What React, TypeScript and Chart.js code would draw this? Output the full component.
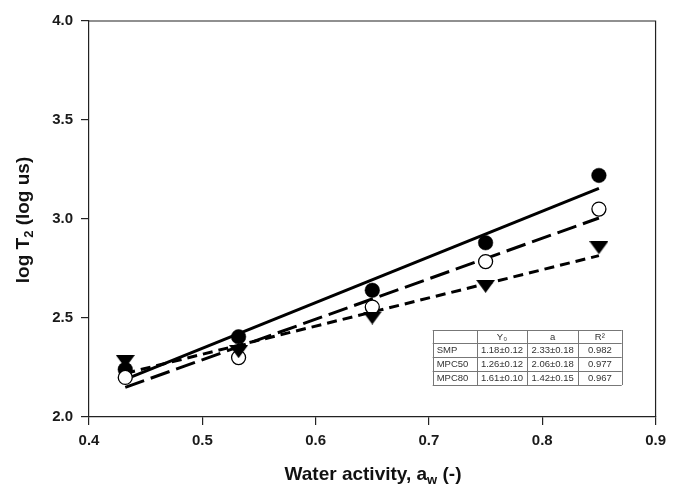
import { useEffect, useRef } from "react";
import { Chart, registerables } from "chart.js";

Chart.register(...registerables);

// ---- data ----
const waterActivity = [0.432, 0.532, 0.65, 0.75, 0.85];
const smpT2 = [2.24, 2.405, 2.64, 2.88, 3.22];
const mpc50T2 = [2.2, 2.3, 2.555, 2.785, 3.05];
const mpc80T2 = [2.28, 2.33, 2.5, 2.66, 2.855];

const fitX = [0.432, 0.85];
const smpFit = [2.19, 3.155];
const mpc50Fit = [2.15, 3.005];
const mpc80Fit = [2.22, 2.815];

const xTickValues = [0.4, 0.5, 0.6, 0.7, 0.8, 0.9];
const yTickValues = [2.0, 2.5, 3.0, 3.5, 4.0];

const tableHeader = ["", "Y\u2080", "a", "R\u00b2"];
const tableRows = [
  ["SMP", "1.18\u00b10.12", "2.33\u00b10.18", "0.982"],
  ["MPC50", "1.26\u00b10.12", "2.06\u00b10.18", "0.977"],
  ["MPC80", "1.61\u00b10.10", "1.42\u00b10.15", "0.967"],
];

const FONT = "'Liberation Sans', Arial, sans-serif";

const pts = (xs: number[], ys: number[]) => xs.map((x, i) => ({ x, y: ys[i] }));

function makeTriangle(): HTMLCanvasElement {
  const c = document.createElement("canvas");
  const w = 19;
  const h = 13;
  c.width = w;
  c.height = h;
  const g = c.getContext("2d")!;
  g.fillStyle = "#000";
  g.beginPath();
  g.moveTo(0, 0);
  g.lineTo(w, 0);
  g.lineTo(w / 2, h);
  g.closePath();
  g.fill();
  return c;
}

const framePlugin = {
  id: "frameAndText",
  afterDatasetsDraw(chart: any) {
    const { ctx, chartArea } = chart;
    const { left, right, top, bottom } = chartArea;
    ctx.save();
    // frame top & right
    ctx.strokeStyle = "#222";
    ctx.lineWidth = 1.2;
    ctx.beginPath();
    ctx.moveTo(left, top);
    ctx.lineTo(right, top);
    ctx.lineTo(right, bottom);
    ctx.stroke();

    // table
    const colX = [left + 343.7, left + 387.7, left + 438.3, left + 489, left + 532.7];
    const rowY = [top + 309, top + 321.7, top + 335.7, top + 349.7, top + 364];
    ctx.fillStyle = "#fff";
    ctx.fillRect(colX[0], rowY[0], colX[4] - colX[0], rowY[4] - rowY[0]);
    ctx.strokeStyle = "#777";
    ctx.lineWidth = 1;
    ctx.beginPath();
    for (const y of rowY) {
      ctx.moveTo(colX[0], Math.round(y) + 0.5);
      ctx.lineTo(colX[4], Math.round(y) + 0.5);
    }
    for (const x of colX) {
      ctx.moveTo(Math.round(x) + 0.5, rowY[0]);
      ctx.lineTo(Math.round(x) + 0.5, rowY[4]);
    }
    ctx.stroke();
    ctx.fillStyle = "#333";
    ctx.font = `9.5px ${FONT}`;
    ctx.textBaseline = "middle";
    const rows = [tableHeader, ...tableRows];
    rows.forEach((row, r) => {
      const cy = (rowY[r] + rowY[r + 1]) / 2 + 1;
      row.forEach((txt, c) => {
        if (c === 0) {
          ctx.textAlign = "left";
          ctx.fillText(txt, colX[0] + 4, cy);
        } else {
          ctx.textAlign = "center";
          ctx.fillText(txt, (colX[c] + colX[c + 1]) / 2, cy);
        }
      });
    });

    // axis titles with subscripts
    const big = `bold 19px ${FONT}`;
    const small = `bold 13px ${FONT}`;
    const drawParts = (parts: { t: string; sub?: boolean }[], cx: number, cy: number, rot: number) => {
      ctx.save();
      ctx.translate(cx, cy);
      ctx.rotate(rot);
      ctx.fillStyle = "#111";
      ctx.textAlign = "left";
      ctx.textBaseline = "alphabetic";
      let total = 0;
      for (const p of parts) {
        ctx.font = p.sub ? small : big;
        total += ctx.measureText(p.t).width;
      }
      let x = -total / 2;
      for (const p of parts) {
        ctx.font = p.sub ? small : big;
        ctx.fillText(p.t, x, p.sub ? 11 : 7);
        x += ctx.measureText(p.t).width;
      }
      ctx.restore();
    };
    drawParts(
      [{ t: "Water activity, a" }, { t: "w", sub: true }, { t: " (-)" }],
      373,
      473,
      0
    );
    drawParts(
      [{ t: "log T" }, { t: "2", sub: true }, { t: " (log us)" }],
      22,
      220,
      -Math.PI / 2
    );
    ctx.restore();
  },
};

export default function App() {
  const ref = useRef<HTMLCanvasElement | null>(null);
  useEffect(() => {
    if (!ref.current) return;
    const tri = makeTriangle();
    const chart = new Chart(ref.current, {
      type: "scatter",
      data: {
        datasets: [
          {
            label: "MPC80",
            data: pts(waterActivity, mpc80T2),
            pointStyle: tri as any,
            pointRadius: 9,
            backgroundColor: "#000",
            borderColor: "#000",
            borderWidth: 0,
            order: 0,
          },
          {
            label: "MPC50",
            data: pts(waterActivity, mpc50T2),
            pointStyle: "circle",
            pointRadius: 7,
            backgroundColor: "#fff",
            borderColor: "#000",
            borderWidth: 1.3,
            order: 1,
          },
          {
            label: "SMP",
            data: pts(waterActivity, smpT2),
            pointStyle: "circle",
            pointRadius: 7.3,
            backgroundColor: "#000",
            borderColor: "#000",
            borderWidth: 0.5,
            order: 2,
          },
          {
            label: "SMP fit",
            data: pts(fitX, smpFit),
            showLine: true,
            pointRadius: 0,
            borderColor: "#000",
            borderWidth: 3,
            order: 3,
          },
          {
            label: "MPC50 fit",
            data: pts(fitX, mpc50Fit),
            showLine: true,
            pointRadius: 0,
            borderColor: "#000",
            borderWidth: 3,
            borderDash: [20, 7],
            order: 3,
          },
          {
            label: "MPC80 fit",
            data: pts(fitX, mpc80Fit),
            showLine: true,
            pointRadius: 0,
            borderColor: "#000",
            borderWidth: 3,
            borderDash: [10, 6],
            order: 3,
          },
        ],
      },
      options: {
        animation: false,
        responsive: false,
        layout: { padding: { left: 0, right: 14, top: 21, bottom: 0 } },
        plugins: { legend: { display: false }, tooltip: { enabled: false } },
        scales: {
          x: {
            type: "linear",
            min: xTickValues[0],
            max: xTickValues[xTickValues.length - 1],
            afterBuildTicks: (s: any) => {
              s.ticks = xTickValues.map((v) => ({ value: v }));
            },
            afterFit: (s: any) => {
              s.height = 70;
            },
            ticks: {
              callback: (v: any) => Number(v).toFixed(1),
              color: "#1a1a1a",
              font: { family: FONT, size: 15, weight: "bold" },
              padding: 7,
              maxRotation: 0,
            },
            grid: { drawOnChartArea: false, drawTicks: true, tickLength: 8, color: "#222", lineWidth: 1.2 },
            border: { display: true, color: "#222", width: 1.2 },
          },
          y: {
            type: "linear",
            min: yTickValues[0],
            max: yTickValues[yTickValues.length - 1],
            afterBuildTicks: (s: any) => {
              s.ticks = yTickValues.map((v) => ({ value: v }));
            },
            afterFit: (s: any) => {
              s.width = 89;
            },
            ticks: {
              callback: (v: any) => Number(v).toFixed(1),
              color: "#1a1a1a",
              font: { family: FONT, size: 15, weight: "bold" },
              padding: 8,
            },
            grid: { drawOnChartArea: false, drawTicks: true, tickLength: 8, color: "#222", lineWidth: 1.2 },
            border: { display: true, color: "#222", width: 1.2 },
          },
        },
      },
      plugins: [framePlugin],
    });
    return () => chart.destroy();
  }, []);
  return (
    <div style={{ position: "fixed", left: 0, top: 0, width: 673, height: 487, background: "#fff" }}>
      <canvas ref={ref} width={673} height={487} style={{ width: 673, height: 487 }} />
    </div>
  );
}
